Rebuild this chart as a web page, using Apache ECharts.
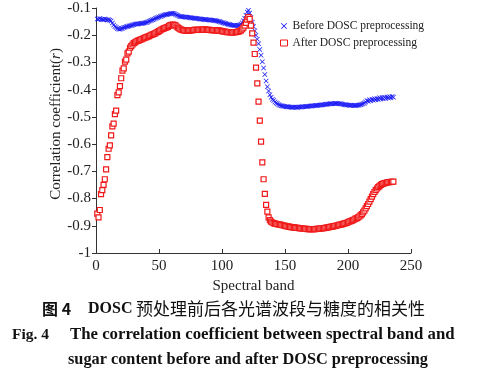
<!DOCTYPE html>
<html>
<head>
<meta charset="utf-8">
<script src="https://cdn.jsdelivr.net/npm/echarts@6/dist/echarts.min.js"></script>
<style>
html,body{margin:0;padding:0;background:#fff;}
#c{width:481px;height:381px;}
</style>
</head>
<body>
<div id="c"></div>
<script>
// Spectral band index of the first value
const startBand = 1;
const xTicks = [0, 50, 100, 150, 200, 250];
const yTicks = [-1, -0.9, -0.8, -0.7, -0.6, -0.5, -0.4, -0.3, -0.2, -0.1];
const seriesNames = ['Before DOSC preprocessing', 'After DOSC preprocessing'];

// Before DOSC preprocessing (bands 1..236)
const beforeDOSC = [
 -0.140,-0.141,-0.139,-0.142,-0.141,-0.143,-0.140,-0.142,-0.144,-0.143,
 -0.145,-0.148,-0.155,-0.162,-0.168,-0.172,-0.175,-0.177,-0.178,-0.176,
 -0.174,-0.172,-0.171,-0.169,-0.168,-0.166,-0.165,-0.164,-0.162,-0.161,
 -0.160,-0.159,-0.159,-0.158,-0.157,-0.157,-0.156,-0.155,-0.154,-0.153,
 -0.151,-0.149,-0.147,-0.145,-0.143,-0.141,-0.139,-0.137,-0.135,-0.133,
 -0.131,-0.129,-0.128,-0.126,-0.125,-0.124,-0.123,-0.122,-0.121,-0.120,
 -0.119,-0.120,-0.123,-0.126,-0.128,-0.130,-0.131,-0.132,-0.132,-0.133,
 -0.133,-0.134,-0.134,-0.135,-0.136,-0.137,-0.137,-0.138,-0.138,-0.139,
 -0.139,-0.140,-0.140,-0.141,-0.141,-0.142,-0.142,-0.143,-0.143,-0.144,
 -0.144,-0.145,-0.145,-0.146,-0.147,-0.148,-0.149,-0.150,-0.151,-0.153,
 -0.154,-0.156,-0.157,-0.159,-0.160,-0.161,-0.162,-0.163,-0.163,-0.164,
 -0.164,-0.164,-0.163,-0.162,-0.159,-0.154,-0.147,-0.138,-0.127,-0.115,
 -0.108,-0.118,-0.135,-0.152,-0.168,-0.184,-0.200,-0.215,-0.231,-0.252,
 -0.274,-0.297,-0.320,-0.344,-0.368,-0.389,-0.405,-0.419,-0.428,-0.435,
 -0.440,-0.445,-0.449,-0.452,-0.455,-0.457,-0.459,-0.460,-0.461,-0.462,
 -0.463,-0.463,-0.464,-0.464,-0.465,-0.465,-0.465,-0.465,-0.465,-0.465,
 -0.464,-0.464,-0.464,-0.463,-0.463,-0.462,-0.462,-0.461,-0.461,-0.460,
 -0.460,-0.459,-0.459,-0.458,-0.458,-0.457,-0.457,-0.456,-0.456,-0.455,
 -0.455,-0.454,-0.454,-0.453,-0.453,-0.452,-0.452,-0.452,-0.451,-0.451,
 -0.451,-0.451,-0.452,-0.452,-0.453,-0.454,-0.455,-0.455,-0.456,-0.456,
 -0.457,-0.457,-0.457,-0.458,-0.458,-0.458,-0.457,-0.457,-0.456,-0.455,
 -0.454,-0.452,-0.449,-0.445,-0.440,-0.443,-0.437,-0.441,-0.435,-0.439,
 -0.433,-0.437,-0.432,-0.436,-0.430,-0.434,-0.429,-0.433,-0.428,-0.432,
 -0.427,-0.431,-0.426,-0.430,-0.425,-0.428
];

// After DOSC preprocessing (bands 1..236)
const afterDOSC = [
 -0.855,-0.869,-0.842,-0.784,-0.769,-0.750,-0.729,-0.693,-0.648,-0.617,
 -0.605,-0.568,-0.535,-0.525,-0.490,-0.477,-0.420,-0.410,-0.387,-0.358,
 -0.330,-0.322,-0.297,-0.290,-0.267,-0.260,-0.246,-0.240,-0.234,-0.229,
 -0.226,-0.223,-0.221,-0.219,-0.217,-0.215,-0.213,-0.211,-0.209,-0.207,
 -0.205,-0.203,-0.201,-0.199,-0.197,-0.195,-0.193,-0.190,-0.188,-0.185,
 -0.182,-0.179,-0.177,-0.175,-0.173,-0.171,-0.169,-0.166,-0.164,-0.162,
 -0.161,-0.162,-0.164,-0.168,-0.172,-0.175,-0.178,-0.180,-0.181,-0.182,
 -0.183,-0.183,-0.183,-0.182,-0.182,-0.181,-0.181,-0.180,-0.180,-0.180,
 -0.180,-0.180,-0.180,-0.179,-0.179,-0.179,-0.179,-0.180,-0.180,-0.180,
 -0.181,-0.181,-0.181,-0.181,-0.182,-0.182,-0.182,-0.183,-0.184,-0.185,
 -0.186,-0.187,-0.188,-0.189,-0.189,-0.189,-0.190,-0.190,-0.190,-0.189,
 -0.189,-0.188,-0.187,-0.185,-0.182,-0.178,-0.172,-0.165,-0.155,-0.143,
 -0.133,-0.140,-0.165,-0.193,-0.227,-0.269,-0.319,-0.377,-0.444,-0.514,
 -0.591,-0.667,-0.729,-0.783,-0.823,-0.848,-0.869,-0.879,-0.885,-0.888,
 -0.890,-0.892,-0.893,-0.894,-0.895,-0.896,-0.897,-0.898,-0.899,-0.900,
 -0.901,-0.902,-0.903,-0.904,-0.905,-0.906,-0.906,-0.907,-0.908,-0.908,
 -0.909,-0.909,-0.910,-0.910,-0.911,-0.911,-0.911,-0.912,-0.912,-0.912,
 -0.912,-0.912,-0.912,-0.912,-0.911,-0.911,-0.911,-0.910,-0.910,-0.909,
 -0.909,-0.908,-0.907,-0.906,-0.905,-0.904,-0.903,-0.902,-0.901,-0.900,
 -0.899,-0.898,-0.897,-0.896,-0.895,-0.893,-0.892,-0.890,-0.889,-0.887,
 -0.885,-0.883,-0.881,-0.879,-0.877,-0.874,-0.872,-0.869,-0.866,-0.862,
 -0.857,-0.851,-0.844,-0.836,-0.828,-0.820,-0.811,-0.802,-0.793,-0.784,
 -0.776,-0.769,-0.763,-0.758,-0.754,-0.750,-0.747,-0.745,-0.743,-0.742,
 -0.741,-0.740,-0.740,-0.739,-0.739,-0.738
];

const toPairs = arr => arr.map((v, i) => [startBand + i, v]);

const serif = '"Liberation Serif", "Times New Roman", serif';
const cjk = '"Noto Sans CJK SC", sans-serif';
const crossPath = 'path://M0,1L1,0L5,4L9,0L10,1L6,5L10,9L9,10L5,6L1,10L0,9L4,5Z';
const BLUE = '#1414f5';
const RED = '#f01818';

const chart = echarts.init(document.getElementById('c'), null, {renderer: 'canvas'});
chart.setOption({
  animation: false,
  backgroundColor: '#fff',
  grid: {left: 96, top: 8, width: 315, height: 245},
  legend: {
    orient: 'vertical', left: 275, top: 15, itemWidth: 7, itemHeight: 6, itemGap: 5,
    textStyle: {fontFamily: serif, fontSize: 11.5, color: '#222'},
    data: [
      {name: seriesNames[0], icon: crossPath},
      {name: seriesNames[1], icon: 'rect', itemStyle: {color: '#fff', borderColor: RED, borderWidth: 1}}
    ]
  },
  xAxis: {
    type: 'value', min: xTicks[0], max: xTicks[xTicks.length - 1], interval: 50,
    name: 'Spectral band', nameLocation: 'middle', nameGap: 15,
    nameTextStyle: {fontFamily: serif, fontSize: 15, color: '#222'},
    axisLine: {lineStyle: {color: '#333', width: 1}},
    axisTick: {inside: true, length: 4, lineStyle: {color: '#333'}},
    axisLabel: {fontFamily: serif, fontSize: 15, color: '#222', margin: 6},
    splitLine: {show: false}
  },
  yAxis: {
    type: 'value', min: yTicks[0], max: yTicks[yTicks.length - 1], interval: 0.1,
    axisLine: {show: true, lineStyle: {color: '#333', width: 1}},
    axisTick: {show: true, inside: false, length: 4, lineStyle: {color: '#333'}},
    axisLabel: {fontFamily: serif, fontSize: 15, color: '#222', margin: 5,
      formatter: v => String(Math.round(v * 10) / 10)},
    splitLine: {show: false}
  },
  graphic: [
    {type: 'text', x: 56, y: 124, rotation: Math.PI / 2,
      style: {text: 'Correlation coefficient({i|r})', fontFamily: serif, fontSize: 15, fill: '#222',
        align: 'center', verticalAlign: 'middle',
        rich: {i: {fontStyle: 'italic', fontFamily: serif, fontSize: 15, fill: '#222'}}}},
    {type: 'text', x: 42, y: 309,
      style: {text: '图 4', fontFamily: cjk, fontWeight: 'bold', fontSize: 16, fill: '#111', verticalAlign: 'middle'}},
    {type: 'text', x: 88, y: 309,
      style: {text: 'DOSC', fontFamily: serif, fontWeight: 'bold', fontSize: 16, fill: '#111', verticalAlign: 'middle'}},
    {type: 'text', x: 136, y: 309,
      style: {text: '预处理前后各光谱波段与糖度的相关性', fontFamily: cjk, fontSize: 17, fill: '#111', verticalAlign: 'middle'}},
    {type: 'text', x: 12, y: 335,
      style: {text: 'Fig. 4', fontFamily: serif, fontWeight: 'bold', fontSize: 15.5, fill: '#111', verticalAlign: 'middle'}},
    {type: 'text', x: 70, y: 335,
      style: {text: 'The correlation coefficient between spectral band and', fontFamily: serif, fontWeight: 'bold', fontSize: 16.8, fill: '#111', verticalAlign: 'middle'}},
    {type: 'text', x: 68, y: 360,
      style: {text: 'sugar content before and after DOSC preprocessing', fontFamily: serif, fontWeight: 'bold', fontSize: 16.3, fill: '#111', verticalAlign: 'middle'}}
  ],
  series: [
    {
      name: seriesNames[0], type: 'scatter', symbol: crossPath, symbolSize: 5,
      itemStyle: {color: BLUE, opacity: 1},
      data: toPairs(beforeDOSC)
    },
    {
      name: seriesNames[1], type: 'scatter', symbol: 'rect', symbolSize: 5,
      itemStyle: {color: '#fff', borderColor: RED, borderWidth: 1.2, opacity: 1},
      data: toPairs(afterDOSC)
    }
  ]
});
</script>
</body>
</html>
